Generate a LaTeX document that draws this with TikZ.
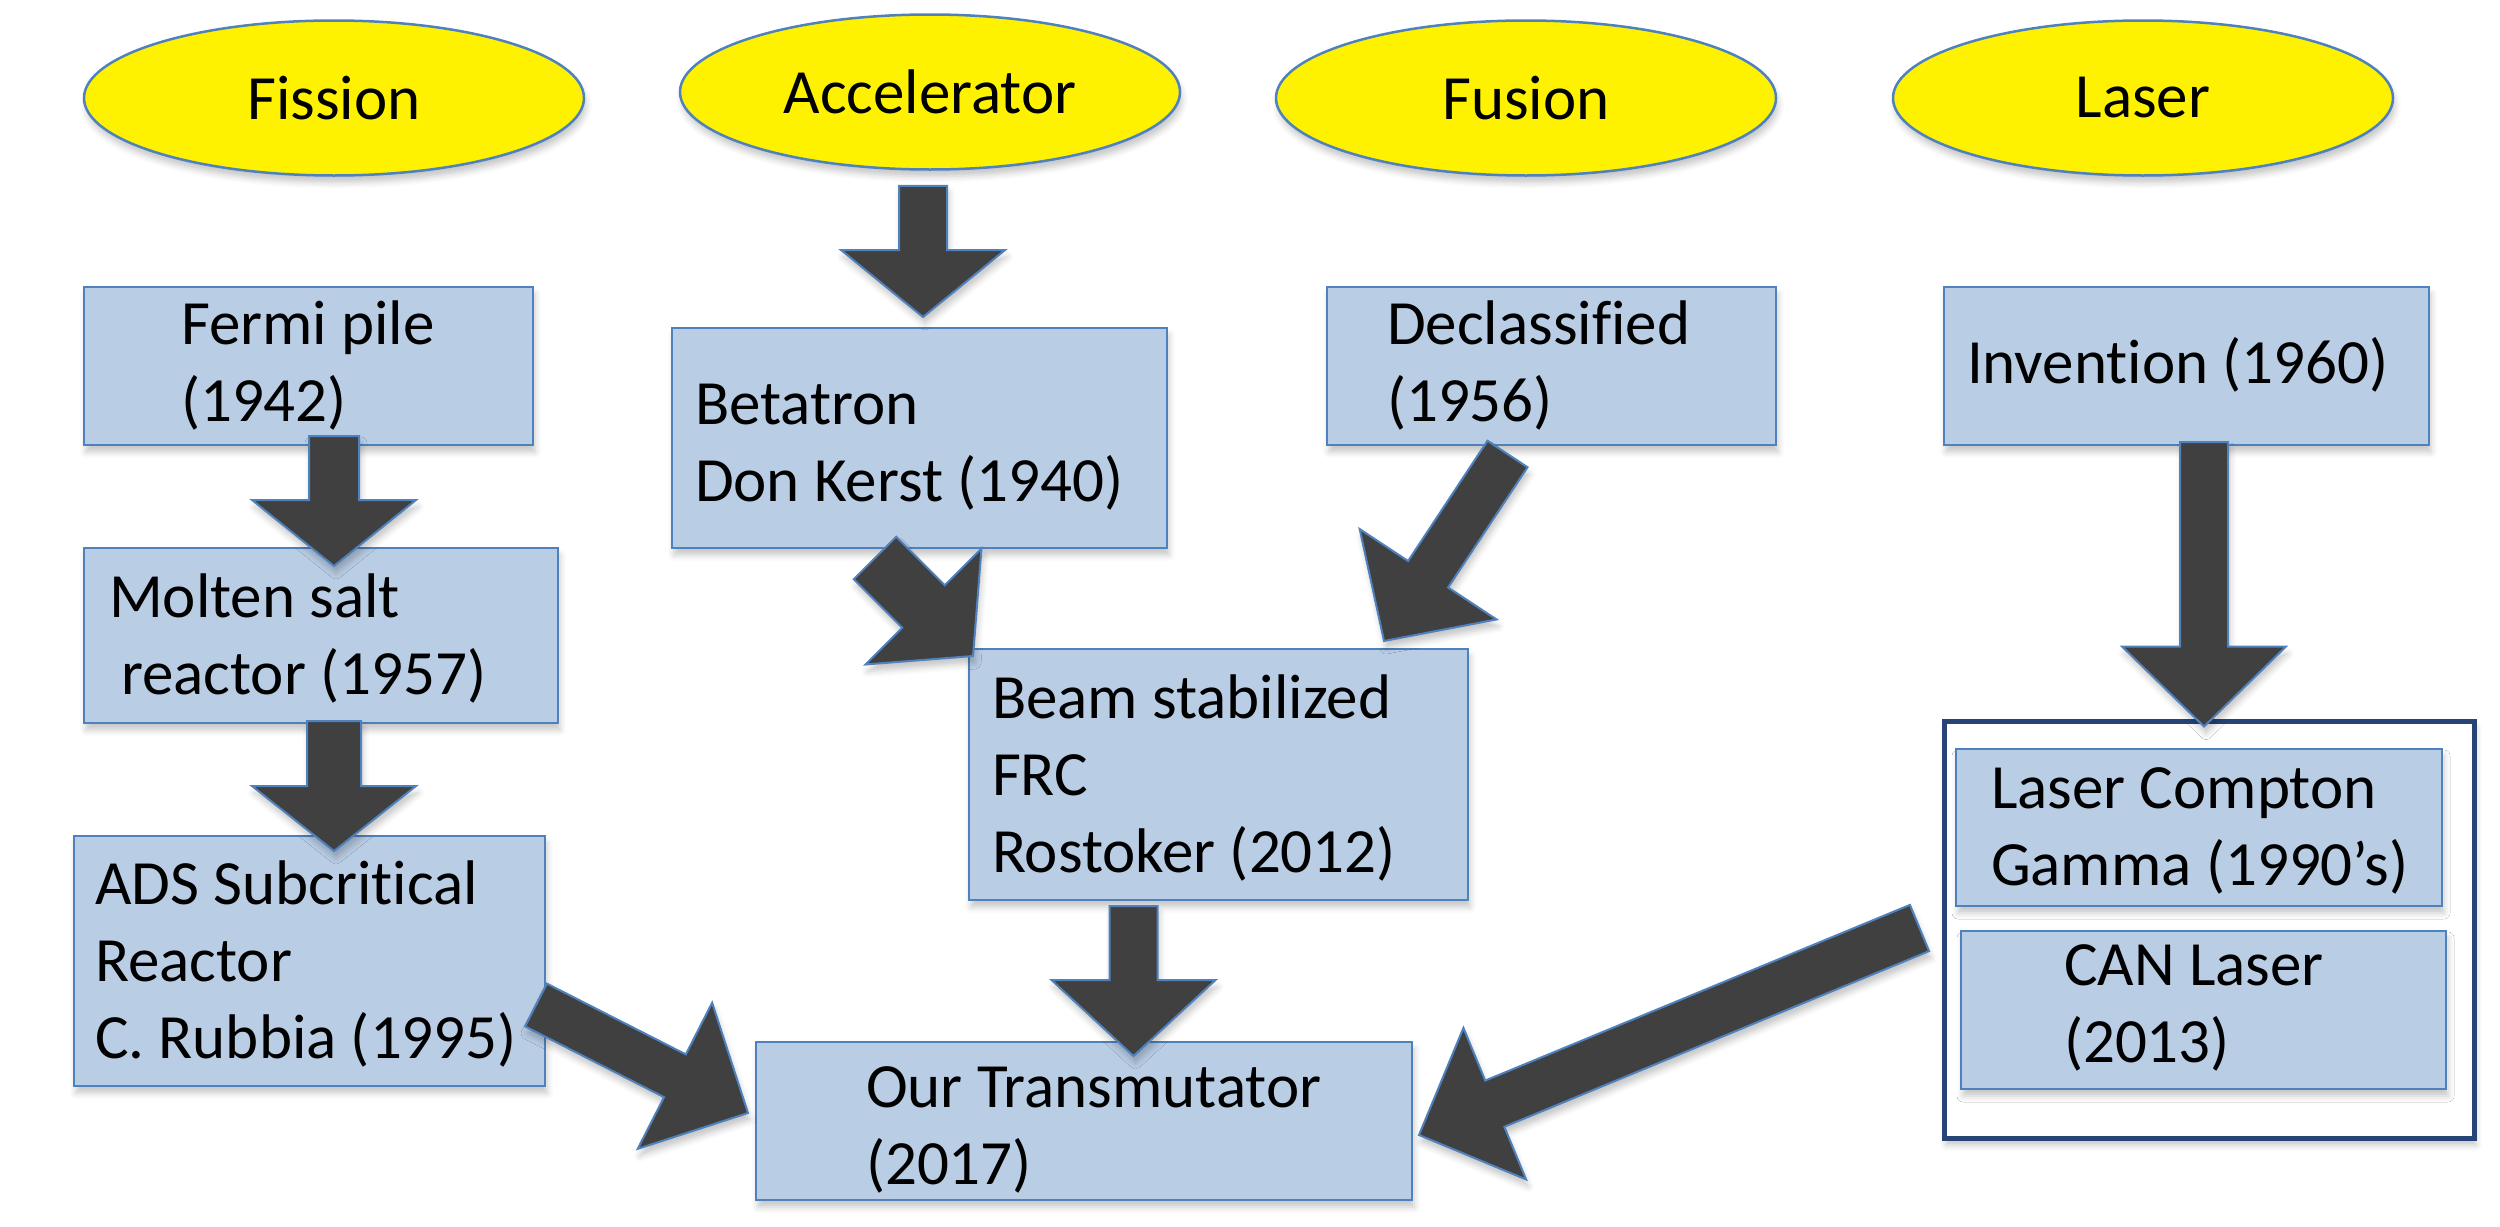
\documentclass[tikz,border=0pt]{standalone}
\usepackage{fontspec}
\setmainfont{Carlito}[Ligatures=NoCommon]
\usetikzlibrary{calc,fit,shapes.geometric,shadows.blur}

\definecolor{boxblue}{RGB}{185,205,229}
\definecolor{lineblue}{RGB}{79,129,189}
\definecolor{navyline}{RGB}{38,68,118}
\definecolor{arrowgrey}{RGB}{64,64,64}

\tikzset{every picture/.style={line width=2pt},
  softshadow/.style={blur shadow={shadow xshift=2pt, shadow yshift=-7pt, shadow opacity=22, shadow blur radius=6pt}},
  topic/.style={ellipse, draw=lineblue, fill=yellow, line width=2.5pt, minimum width=500, minimum height=155, inner sep=0, font=\fontsize{63}{77}\selectfont, softshadow},
  box/.style={rectangle, draw=lineblue, fill=boxblue, inner sep=0, softshadow},
  groupbox/.style={rectangle, draw=navyline, fill=white, line width=5pt, inner sep=0, softshadow},
  txt/.style={anchor=base west, align=left, inner sep=0, font=\fontsize{63}{77}\selectfont},
  barrow/.style={draw=lineblue, fill=arrowgrey, line width=2pt, line join=miter, softshadow}}

% block arrow: tail, tip, shaft half width, head length
\newcommand{\blockarrow}[4]{%
  \coordinate (ba-a) at #1;
  \coordinate (ba-b) at #2;
  \coordinate (ba-h) at ($(ba-b)!#4pt!(ba-a)$);
  \path[barrow] ($(ba-a)!#3pt!90:(ba-b)$) -- ($(ba-h)!#3pt!90:(ba-b)$) -- ($(ba-h)!82pt!90:(ba-b)$) -- (ba-b)
    -- ($(ba-h)!82pt!-90:(ba-b)$) -- ($(ba-h)!#3pt!-90:(ba-b)$) -- ($(ba-a)!#3pt!-90:(ba-b)$) -- cycle;}

\begin{document}
\begin{tikzpicture}[x=1pt,y=1pt,yscale=-1]
	\useasboundingbox (0,0) rectangle (2500,1226);

	%Shape: Ellipses
	\node[topic] (fission) at (334,98) {Fission};
	\node[topic] (accel) at (930,92) {Accelerator};
	\node[topic] (fusion) at (1526,98) {Fusion};
	\node[topic] (laser) at (2143,98) {Laser};

	%Shape: Rectangles
	\node[box, fit={(84,287) (533,445)}] (fermi) {};
	\node[box, fit={(672,328) (1167,548)}] (betatron) {};
	\node[box, fit={(1327,287) (1776,445)}] (declass) {};
	\node[box, fit={(1944,287) (2429,445)}] (invent) {};
	\node[box, fit={(84,548) (558,723)}] (molten) {};
	\node[box, fit={(74,836) (545,1086)}] (ads) {};
	\node[box, fit={(969,649) (1468,900)}] (beam) {};
	\node[box, fit={(756,1042) (1412,1200)}] (trans) {};
	\node[groupbox, fit={(1944,721) (2474,1138)}] (lframe) {};
	\node[box, fit={(1956,749) (2442,906)}] (compton) {};
	\node[box, fit={(1961,931) (2446,1089)}] (can) {};

	% Text Node
	\node[txt] (fermi-t) at (180,421) {Fermi pile\\(1942)};
	% Text Node
	\node[txt] (betatron-t) at (694,501) {Betatron\\Don Kerst (1940)};
	% Text Node
	\node[txt] (declass-t) at (1386,421) {Declassified\\(1956)};
	% Text Node
	\node[txt] (invent-t) at (1966,383) {Invention (1960)};
	% Text Node
	\node[txt] (molten-t) at (108,694) {Molten salt\\\hspace*{12pt}reactor (1957)};
	% Text Node
	\node[txt] (ads-t) at (94,1058) {ADS Subcritical\\Reactor\\C. Rubbia (1995)};
	% Text Node
	\node[txt] (beam-t) at (991,872) {Beam stabilized\\FRC\\Rostoker (2012)};
	% Text Node
	\node[txt] (trans-t) at (865,1184) {Our Transmutator\\(2017)};
	% Text Node
	\node[txt] (compton-t) at (1990,885) {Laser Compton\\Gamma (1990’s)};
	% Text Node
	\node[txt] (can-t) at (2063,1062) {CAN Laser\\(2013)};

	%Shape: Block arrows
	\blockarrow{($(accel.south)+(-7,15)$)}{($(betatron.north)+(3.5,-10)$)}{24}{67}
	\blockarrow{($(fermi.south)+(25.5,-10)$)}{($(molten.north)+(13,19)$)}{25}{66}
	\blockarrow{($(molten.south)+(13,-3)$)}{($(ads.north)+(24.5,16)$)}{27}{65}
	\blockarrow{($(betatron.south)+(-44.5,9)$)}{($(beam.north west)+(5,8)$)}{30}{70}
	\blockarrow{($(declass.south)+(-44,8)$)}{($(beam.north)+(165.5,-7)$)}{24}{80}
	\blockarrow{($(ads.east)+(-10,44)$)}{($(trans.west)+(-7,-8)$)}{24}{82}
	\blockarrow{($(beam.south)+(-85,5)$)}{($(trans.north)+(49.5,15)$)}{24}{76}
	\blockarrow{($(invent.south)+(17.5,-4)$)}{($(lframe.north)+(-5,8)$)}{24}{80}
	\blockarrow{($(lframe.west)+(-22,-1.5)$)}{($(trans.east)+(6,14)$)}{25}{82}

\end{tikzpicture}
\end{document}
